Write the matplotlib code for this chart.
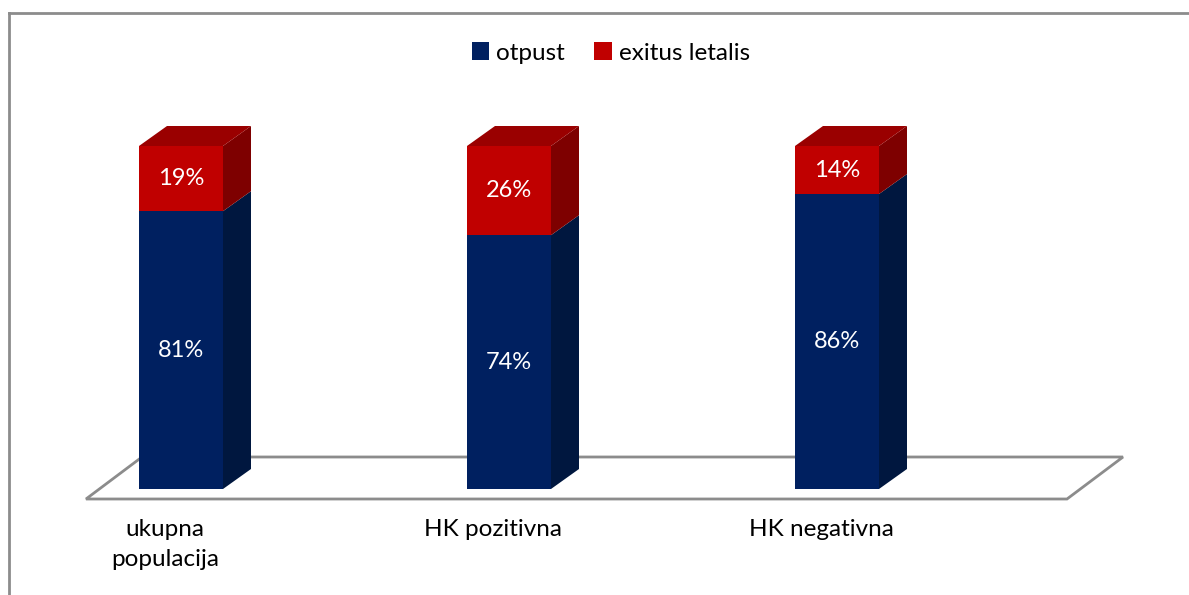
import matplotlib
matplotlib.use("Agg")
import matplotlib.pyplot as plt
from matplotlib.patches import Polygon, Patch
from matplotlib.lines import Line2D
import numpy as np

plt.rcParams["font.family"] = ["Lato", "DejaVu Sans"]

# ── data ──────────────────────────────────────
categories = ["ukupna\npopulacija", "HK pozitivna", "HK negativna"]
otpust = [81, 74, 86]
exitus = [19, 26, 14]
series_names = ["otpust", "exitus letalis"]

# ── style ─────────────────────────────────────
FRONT = {"otpust": "#002060", "exitus letalis": "#C00000"}
SIDE = {"otpust": "#00173F", "exitus letalis": "#7E0000"}
TOP = {"otpust": "#0A2A70", "exitus letalis": "#9A0000"}
GRID_GRAY = "#8C8C8C"

W, H = 1189, 595
fig = plt.figure(figsize=(W / 100, H / 100), dpi=100)
ax = fig.add_axes([0, 0, 1, 1])

# pixel mapping: category centre px = X0 + PX_X*i, value px from top = Y0 - PX_Y*v
X0, PX_X = 181.0, 328.0
Y0, PX_Y = 489.0, 3.43
ax.set_xlim(-X0 / PX_X, (W - X0) / PX_X)
ax.set_ylim((Y0 - H) / PX_Y, Y0 / PX_Y)
ax.axis("off")

bar_w = 84 / PX_X
dx, dy = 28 / PX_X, 20 / PX_Y            # bar depth
fdx, fdy = 56 / PX_X, 42 / PX_Y          # floor depth

x = np.arange(len(categories))

# floor (parallelogram outline)
fx0 = (86 - X0) / PX_X
fx1 = (1067 - X0) / PX_X
fy = -10 / PX_Y
floor = [(fx0, fy), (fx1, fy), (fx1 + fdx, fy + fdy), (fx0 + fdx, fy + fdy)]
ax.add_patch(Polygon(floor, closed=True, fill=False, edgecolor=GRID_GRAY,
                     linewidth=2, zorder=1))

# stacked 3D-looking columns
bottoms = np.zeros(len(categories))
for name, vals in zip(series_names, [otpust, exitus]):
    vals = np.array(vals, dtype=float)
    ax.bar(x, vals, bar_w, bottom=bottoms, color=FRONT[name], zorder=3,
           linewidth=0)
    for xi, b, h in zip(x, bottoms, vals):
        r = xi + bar_w / 2
        side = [(r, b), (r + dx, b + dy), (r + dx, b + h + dy), (r, b + h)]
        ax.add_patch(Polygon(side, closed=True, facecolor=SIDE[name],
                             edgecolor="none", zorder=2.5))
        ax.text(xi, b + h / 2, f"{h:.0f}%", ha="center", va="center",
                color="white", fontsize=17, zorder=4)
    bottoms = bottoms + vals

# top faces of the stacks
for xi, t in zip(x, bottoms):
    l, r = xi - bar_w / 2, xi + bar_w / 2
    top = [(l, t), (l + dx, t + dy), (r + dx, t + dy), (r, t)]
    ax.add_patch(Polygon(top, closed=True, facecolor=TOP["exitus letalis"],
                         edgecolor="none", zorder=2.6))

# category labels
for xi, lab in zip(x, categories):
    ax.text(xi - 16 / PX_X, (Y0 - 519) / PX_Y, lab, ha="center", va="top",
            fontsize=17.5, color="black", linespacing=1.55)

# legend
handles = [Patch(facecolor=FRONT[n], edgecolor="none", label=n) for n in series_names]
ax.legend(handles=handles, loc="center", bbox_to_anchor=(611 / W, 1 - 53 / H),
          ncol=2, frameon=False, fontsize=17.5, handlelength=0.72, handleheight=0.72,
          handletextpad=0.3, columnspacing=1.2)

# chart frame
fig.add_artist(Line2D([9 / W, 1], [1 - 13 / H, 1 - 13 / H], color=GRID_GRAY,
                      linewidth=2, transform=fig.transFigure))
fig.add_artist(Line2D([9 / W, 9 / W], [0, 1 - 13 / H], color=GRID_GRAY,
                      linewidth=2, transform=fig.transFigure))

fig.savefig("out.png", dpi=100, facecolor="white")
